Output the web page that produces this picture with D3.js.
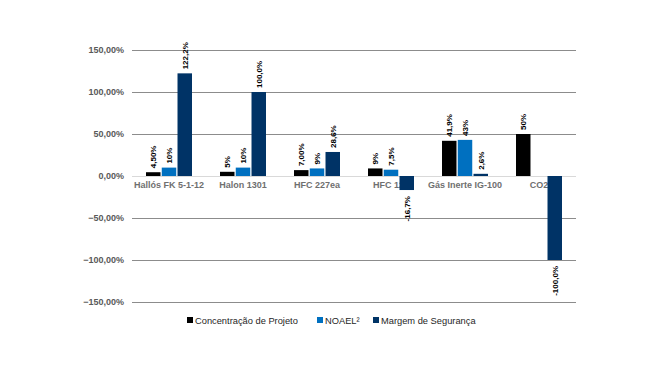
<!DOCTYPE html>
<html><head><meta charset="utf-8">
<script src="https://cdn.jsdelivr.net/npm/d3@7"></script>
<style>body{margin:0;background:#fff}</style>
</head><body>
<svg id="c" width="662" height="378"></svg>
<script>
const categories = ["Hallós FK 5-1-12","Halon 1301","HFC 227ea","HFC 125","Gás Inerte IG-100","CO2"];
const seriesNames = ["Concentração de Projeto","NOAEL²","Margem de Segurança"];
const concentracao = [4.5, 5, 7, 9, 41.9, 50];
const noael = [10, 10, 9, 7.5, 43, null];
const margem = [122.2, 100, 28.6, -16.7, 2.6, -100];
const concLabels = ["4,50%","5%","7,00%","9%","41,9%","50%"];
const noaelLabels = ["10%","10%","9%","7,5%","43%",""];
const margemLabels = ["122,2%","100,0%","28,6%","-16,7%","2,6%","-100,0%"];
const yTicks = [150,100,50,0,-50,-100,-150];
const colors = ["#000000","#0070C0","#003366"];

const svg = d3.select("#c");
const x0 = d3.scaleBand().domain(categories).range([132,576]);
const x1 = d3.scaleBand().domain([0,1,2]).range([0,46]).paddingInner(0.08);
const y = d3.scaleLinear().domain([-150,150]).range([302,50]);
const fmt = v => d3.format(".2f")(v).replace(".", ",") + "%";

// gridlines
svg.append("g").selectAll("line").data(yTicks).join("line")
  .attr("x1",132).attr("x2",576).attr("y1",d=>y(d)).attr("y2",d=>y(d))
  .attr("stroke",d=>d===0?"#d9d9d9":"#8c8c8c").attr("stroke-width",1)
  .attr("shape-rendering","crispEdges");

// y axis labels
const yAxis = d3.axisLeft(y).tickValues(yTicks).tickFormat(fmt).tickSize(0).tickPadding(0);
const ya = svg.append("g").attr("transform","translate(124,0)").call(yAxis);
ya.select(".domain").remove();
ya.selectAll("text").attr("font-family","Liberation Sans, Arial, sans-serif")
  .attr("font-size",9).attr("font-weight","bold").attr("fill","#595959");

// x axis labels
const xAxis = d3.axisBottom(x0).tickSize(0).tickPadding(0);
const xa = svg.append("g").attr("transform","translate(0,182)").call(xAxis);
xa.select(".domain").remove();
xa.selectAll("text").attr("font-family","Liberation Sans, Arial, sans-serif")
  .attr("font-size",9).attr("font-weight","bold").attr("fill","#6f6f6f").attr("dy","0.71em");

const series = [concentracao, noael, margem];
const labels = [concLabels, noaelLabels, margemLabels];
const offset = (x0.bandwidth()-46)/2;

series.forEach((vals, si) => {
  const g = svg.append("g");
  const data = categories.map((c,i)=>({c, v:vals[i], l:labels[si][i]})).filter(d=>d.v!==null);
  g.selectAll("rect").data(data).join("rect")
    .attr("x", d=>x0(d.c)+offset+x1(si))
    .attr("width", x1.bandwidth())
    .attr("y", d=>y(Math.max(0,d.v)))
    .attr("height", d=>Math.abs(y(d.v)-y(0)))
    .attr("fill", colors[si]);
  g.selectAll("text").data(data).join("text")
    .attr("transform", d=>{
      const cx = x0(d.c)+offset+x1(si)+x1.bandwidth()/2;
      const cy = d.v>=0 ? y(d.v)-4 : y(d.v)+6;
      return `translate(${cx},${cy}) rotate(-90)`;
    })
    .attr("text-anchor", d=>d.v>=0?"start":"end")
    .attr("dy","0.35em")
    .attr("font-family","Liberation Sans, Arial, sans-serif")
    .attr("font-size",8).attr("font-weight","bold").attr("fill","#000")
    .text(d=>d.l);
});

// legend
const legX = [187, 317, 373];
const lg = svg.append("g");
seriesNames.forEach((n,i)=>{
  lg.append("rect").attr("x",legX[i]).attr("y",317).attr("width",6).attr("height",6).attr("fill",colors[i]);
  lg.append("text").attr("x",legX[i]+8).attr("y",323.5)
    .attr("font-family","Liberation Sans, Arial, sans-serif").attr("font-size",9.3)
    .attr("fill","#262626").text(n);
});
</script>
</body></html>
